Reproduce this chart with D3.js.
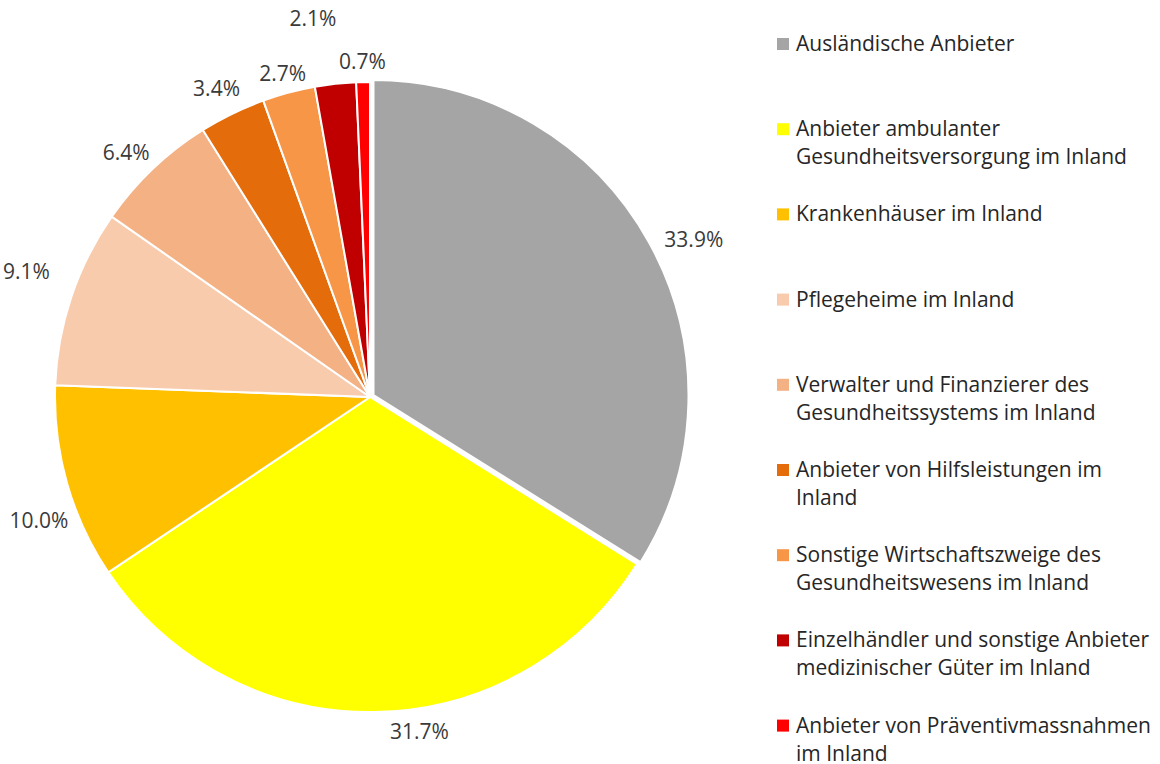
<!DOCTYPE html>
<html>
<head>
<meta charset="utf-8">
<script src="https://cdnjs.cloudflare.com/ajax/libs/d3/7.8.5/d3.min.js"></script>
<style>
  body { margin: 0; background: #fff; }
  text { font-family: "Open Sans", sans-serif; }
</style>
</head>
<body>
<div id="chart"></div>
<script>
const width = 1160;
const height = 764;

// slices, clockwise from 12 o'clock
const categories = [
    ["Ausländische Anbieter"],
    ["Anbieter ambulanter", "Gesundheitsversorgung im Inland"],
    ["Krankenhäuser im Inland"],
    ["Pflegeheime im Inland"],
    ["Verwalter und Finanzierer des", "Gesundheitssystems im Inland"],
    ["Anbieter von Hilfsleistungen im", "Inland"],
    ["Sonstige Wirtschaftszweige des", "Gesundheitswesens im Inland"],
    ["Einzelhändler und sonstige Anbieter", "medizinischer Güter im Inland"],
    ["Anbieter von Präventivmassnahmen", "im Inland"]
];
const shares = [33.9, 31.7, 10.0, 9.1, 6.4, 3.4, 2.7, 2.1, 0.7];
const colors = ["#a5a5a5", "#ffff00", "#ffc000", "#f8cbad", "#f4b183",
                "#e46c0a", "#f79646", "#c00000", "#ff0000"];

const cx = 370, cy = 397, radius = 315;
const explode = [4, 0, 0, 0, 0, 0, 0, 0, 0];
// hand moved labels (px), like in the original workbook
const labelNudge = [[12, 6], [44, 0], [8, 32], [-15, -20], [-5, -3], [-2, -9], [2, -1], [-16, -19], [0, -2]];

var svg = d3.select("#chart")
    .append("svg")
    .attr("width", width)
    .attr("height", height);

let pie = d3.pie().sort(null).value(d => d);
let arcs = pie(shares);
let arc = d3.arc().innerRadius(0).outerRadius(radius);

let g = svg.append("g").attr("transform", "translate(" + cx + "," + cy + ")");

function mid(d) { return (d.startAngle + d.endAngle) / 2; }

g.selectAll("path.slice")
    .data(arcs)
    .enter()
    .append("path")
    .attr("class", "slice")
    .attr("d", arc)
    .attr("fill", (d, i) => colors[i])
    .attr("stroke", "#fff")
    .attr("stroke-width", 2)
    .attr("stroke-linejoin", "round")
    .attr("transform", (d, i) => {
        let a = mid(d);
        return "translate(" + (explode[i] * Math.sin(a)) + "," + (-explode[i] * Math.cos(a)) + ")";
    });

// data labels, outside end
let labels = g.selectAll("text.lbl")
    .data(arcs)
    .enter()
    .append("text")
    .attr("class", "lbl")
    .attr("font-size", 21)
    .attr("fill", "#3a3a3a")
    .attr("text-anchor", "middle")
    .attr("dominant-baseline", "central")
    .text(d => d.value.toFixed(1) + "%");

let placed = [];
// place from the last slice backwards so the tiny ones get pushed out
labels.nodes().reverse().forEach(function (node) {
    let d = d3.select(node).datum();
    let i = d.index;
    let w = node.getBBox().width, h = 22;
    let a = mid(d);
    let sx = Math.sin(a), sy = -Math.cos(a);
    let dist = radius + 8 + explode[i];
    let x, y, box;
    for (let k = 0; k < 60; k++) {
        x = dist * sx + w / 2 * sx;
        y = dist * sy + h / 2 * sy;
        box = [x - w / 2, y - h / 2, x + w / 2, y + h / 2];
        let hit = placed.some(b => box[0] < b[2] && box[2] > b[0] && box[1] < b[3] && box[3] > b[1]);
        if (!hit) break;
        dist += 4;
    }
    placed.push(box);
    d3.select(node)
        .attr("x", x + labelNudge[i][0])
        .attr("y", y + labelNudge[i][1]);
});

// legend
let legend = svg.append("g").attr("transform", "translate(777,43)");
let rows = legend.selectAll("g.row")
    .data(categories)
    .enter()
    .append("g")
    .attr("class", "row")
    .attr("transform", (d, i) => "translate(0," + (i * 85.2) + ")");

rows.append("rect")
    .attr("x", 0)
    .attr("y", -5)
    .attr("width", 12)
    .attr("height", 12)
    .attr("fill", (d, i) => colors[i]);

rows.append("text")
    .attr("x", 19)
    .attr("y", 0)
    .attr("font-size", 21)
    .attr("fill", "#262626")
    .attr("dominant-baseline", "central")
    .selectAll("tspan")
    .data(d => d)
    .enter()
    .append("tspan")
    .attr("x", 19)
    .attr("dy", (d, i) => i == 0 ? 0 : 28)
    .text(d => d);
</script>
</body>
</html>
